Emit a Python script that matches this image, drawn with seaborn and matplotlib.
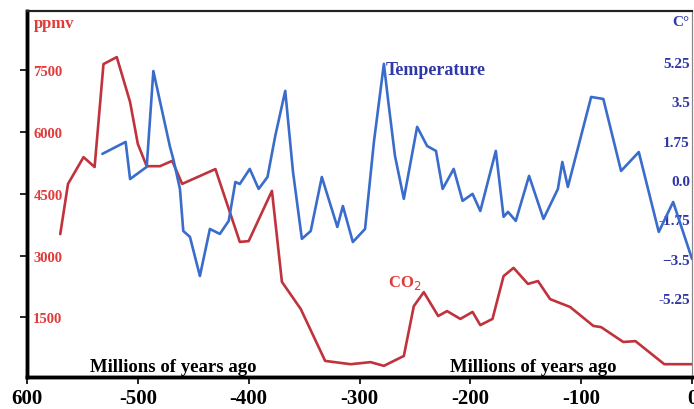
import matplotlib
matplotlib.use("Agg")
import matplotlib.pyplot as plt
import seaborn as sns
import pandas as pd

# ---- data ----
co2_years = [-570, -563, -549, -539, -531, -519, -507, -500, -492, -480, -469, -460,
             -430, -408, -400, -379, -370, -353, -331, -308, -290, -278, -260, -251,
             -242, -229, -221, -209, -198, -191, -180, -170, -161, -148, -139, -128,
             -110, -89, -82, -62, -51, -25, 0]
co2_ppmv = [3520, 4740, 5390, 5150, 7650, 7820, 6730, 5710, 5170, 5170, 5300, 4740,
            5100, 3330, 3350, 4570, 2360, 1700, 440, 360, 410, 320, 560, 1770,
            2110, 1530, 1650, 1460, 1630, 1310, 1460, 2500, 2700, 2310, 2380, 1940,
            1750, 1290, 1260, 900, 920, 360, 360]

temp_years = [-532, -511, -507, -492, -486, -471, -468, -462, -459, -453, -444, -435,
              -426, -418, -412, -408, -399, -391, -383, -376, -367, -360, -352, -344,
              -334, -320, -315, -306, -295, -287, -278, -274, -268, -260, -248, -239,
              -231, -225, -215, -207, -198, -191, -177, -170, -166, -159, -147, -134,
              -121, -117, -112, -91, -80, -64, -48, -30, -17, 0]
temp_c = [1.16, 1.69, 0.04, 0.58, 4.84, 1.47, 0.93, -0.40, -2.27, -2.53, -4.27, -2.18,
          -2.40, -1.82, -0.09, -0.18, 0.49, -0.40, 0.13, 1.96, 3.96, 0.36, -2.62, -2.27,
          0.13, -2.09, -1.16, -2.76, -2.18, 1.69, 5.16, 3.47, 1.07, -0.84, 2.36, 1.51,
          1.29, -0.40, 0.49, -0.93, -0.62, -1.38, 1.29, -1.64, -1.42, -1.82, 0.18, -1.73,
          -0.40, 0.80, -0.31, 3.69, 3.60, 0.40, 1.24, -2.31, -0.98, -3.51]

x_ticks = [-600, -500, -400, -300, -200, -100, 0]
x_labels = ["600", "-500", "-400", "-300", "-200", "-100", "0"]
co2_ticks = [1500, 3000, 4500, 6000, 7500]
co2_labels = ["1500", "3000", "4500", "6000", "7500"]
temp_ticks = [-5.25, -3.5, -1.75, 0.0, 1.75, 3.5, 5.25]
temp_labels = ["-5.25", "\u22123.5", "-1.75", "0.0", "1.75", "3.5", "5.25"]

# ---- style ----
sns.set_style("white")
plt.rcParams['font.family'] = ['Liberation Serif', 'DejaVu Serif']

RED_LINE = "#c0323c"
BLUE_LINE = "#3a6ccc"
RED_TXT = "#e03a3a"
BLUE_TXT = "#3038a8"

W, H = 694, 410
fig = plt.figure(figsize=(W / 100, H / 100), dpi=100)
left, right, top, bottom = 27, 692, 12, 378
ax = fig.add_axes([left / W, 1 - bottom / H, (right - left) / W, (bottom - top) / H])

co2_df = pd.DataFrame({"year": co2_years, "ppmv": co2_ppmv})
temp_df = pd.DataFrame({"year": temp_years, "temp": temp_c})

sns.lineplot(data=co2_df, x="year", y="ppmv", ax=ax, color=RED_LINE, linewidth=1.9,
             sort=False, estimator=None)
ax.set_xlim(-600, 0)
ax.set_ylim(49, 8940)
ax.set_xlabel("")
ax.set_ylabel("")

ax2 = ax.twinx()
sns.lineplot(data=temp_df, x="year", y="temp", ax=ax2, color=BLUE_LINE, linewidth=1.9,
             sort=False, estimator=None)
ax2.set_ylim(-8.76, 7.51)
ax2.set_ylabel("")

# x axis
ax.set_xticks(x_ticks)
ax.set_xticklabels(x_labels, fontsize=15, fontweight="bold", color="black")
ax.tick_params(axis="x", direction="out", length=5, width=1.2, color="black", pad=3,
               bottom=True)

# left axis
ax.set_yticks(co2_ticks)
ax.set_yticklabels(co2_labels, fontsize=10.5, fontweight="bold", color=RED_TXT)
ax.tick_params(axis="y", direction="out", length=5, width=1.2, color="black", pad=-9.5,
               left=True)
for lab in ax.get_yticklabels():
    lab.set_horizontalalignment("left")

# right axis
ax2.set_yticks(temp_ticks)
ax2.set_yticklabels(temp_labels, fontsize=11, fontweight="bold", color=BLUE_TXT)
ax2.tick_params(axis="y", direction="out", length=0, pad=-1.5, right=True)
for lab in ax2.get_yticklabels():
    lab.set_horizontalalignment("right")

for a in (ax, ax2):
    a.spines["left"].set_linewidth(2.5)
    a.spines["left"].set_color("black")
    a.spines["bottom"].set_linewidth(2.5)
    a.spines["bottom"].set_color("black")
    a.spines["top"].set_linewidth(1.5)
    a.spines["top"].set_color("#222222")
    a.spines["right"].set_linewidth(0.8)
    a.spines["right"].set_color("#888888")

# annotations
ax.text(-594, 8650, "ppmv", fontsize=12, fontweight="bold", color=RED_TXT, va="center", ha="left")
ax2.text(-2, 7.05, "C\u00b0", fontsize=11, fontweight="bold", color=BLUE_TXT, va="center", ha="right")
ax2.text(-276, 4.9, "Temperature", fontsize=13, fontweight="bold", color=BLUE_TXT, va="center", ha="left")
ax.text(-259, 2350, "CO$_2$", fontsize=12, fontweight="bold", color=RED_TXT, va="center", ha="center")
ax.text(-468, 300, "Millions of years ago", fontsize=13.5, fontweight="bold", color="black", va="center", ha="center")
ax.text(-143, 300, "Millions of years ago", fontsize=13.5, fontweight="bold", color="black", va="center", ha="center")

fig.savefig("out.png", dpi=100)
